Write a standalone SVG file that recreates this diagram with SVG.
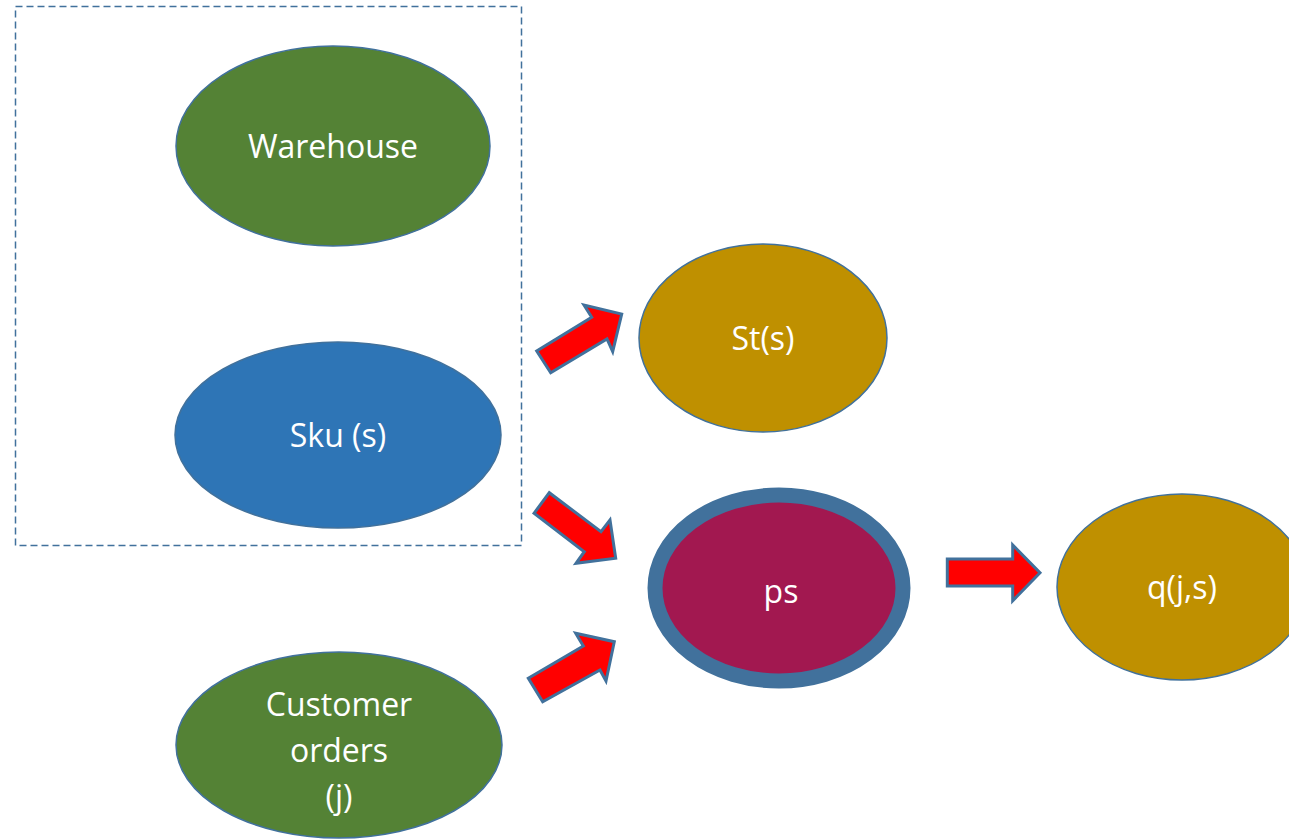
<svg xmlns="http://www.w3.org/2000/svg" width="1289" height="839" viewBox="0 0 1289 839">
<style>
.node{stroke:#41719C;stroke-width:1.5}
.green{fill:#548235}
.blue{fill:#2E75B6}
.gold{fill:#BF9000}
.lbl{font-family:"Open Sans","Noto Sans",sans-serif;font-size:32px;fill:#FFFFFF;text-anchor:middle}
.arrow{fill:#FF0000;stroke:#41719C;stroke-width:3;stroke-linejoin:miter}
</style>
<rect width="1289" height="839" fill="#FFFFFF"/>
<g id="group-box">
<rect x="15.5" y="6.5" width="506" height="539" fill="none" stroke="#41719C" stroke-width="1.5" stroke-dasharray="7,4"/>
</g>
<g id="warehouse">
<ellipse class="node green" cx="333" cy="146" rx="157" ry="100"/>
<text class="lbl" x="333" y="158">Warehouse</text>
</g>
<g id="sku">
<ellipse class="node blue" cx="338" cy="435" rx="163" ry="93"/>
<text class="lbl" x="338" y="447">Sku (s)</text>
</g>
<g id="customer-orders">
<ellipse class="node green" cx="339" cy="745" rx="163" ry="93"/>
<text class="lbl" x="339" y="716">Customer</text>
<text class="lbl" x="339" y="762">orders</text>
<text class="lbl" x="339" y="808">(j)</text>
</g>
<g id="st">
<ellipse class="node gold" cx="763" cy="338" rx="124" ry="94"/>
<text class="lbl" x="763" y="350">St(s)</text>
</g>
<g id="ps">
<ellipse cx="779" cy="588" rx="124" ry="93" fill="#A21850" stroke="#41719C" stroke-width="15"/>
<text class="lbl" x="781" y="603">ps</text>
</g>
<g id="q">
<ellipse class="node gold" cx="1182" cy="587" rx="125" ry="93"/>
<text class="lbl" x="1182" y="599">q(j,s)</text>
</g>
<g id="connectors">
<polygon class="arrow" points="536.7,351 550.7,372.7 607,339 612.7,351.7 621.7,314 584,305 591.7,317.3"/>
<polygon class="arrow" points="534,513.3 549.3,492.7 601,531.7 610,520 615.7,558.3 576,563.3 584.3,551.7"/>
<polygon class="arrow" points="528.3,678.3 542.7,701.7 600,670 606,681 614.3,641.7 575.7,633.3 583.3,646"/>
<polygon class="arrow" points="947.3,559 947.3,586 1012.7,586 1012.7,600.7 1040,572.7 1012.7,545 1012.7,559"/>
</g>
</svg>
